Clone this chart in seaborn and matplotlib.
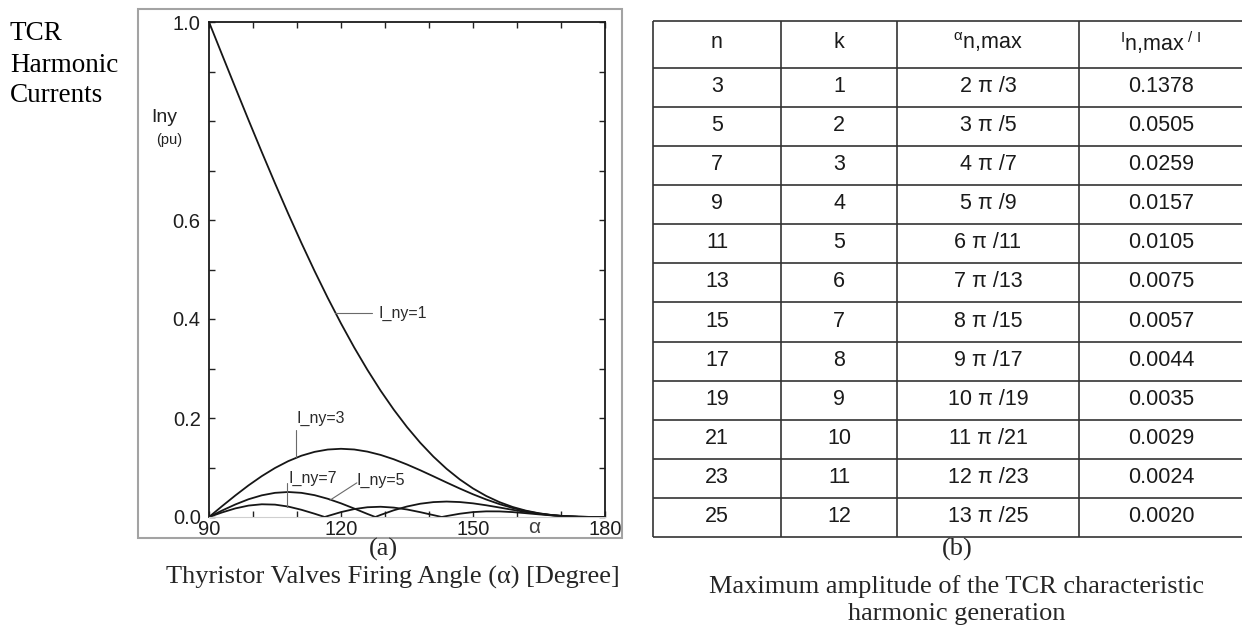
import numpy as np
import pandas as pd
import matplotlib
matplotlib.use("Agg")
import matplotlib.pyplot as plt
from matplotlib.patches import Rectangle
import seaborn as sns

# ---- TCR harmonic current magnitudes (pu) vs. firing angle (deg) ----
alpha_grid = [90, 93, 96, 99, 102, 105, 108, 111, 114, 117, 120, 123, 126, 129, 132,
              135, 138, 141, 144, 147, 150, 153, 156, 159, 162, 165, 168, 171, 174, 177, 180]
i_ny1 = [1.0, 0.9334, 0.8672, 0.8016, 0.7372, 0.6742, 0.6129, 0.5537, 0.4968, 0.4425,
         0.3910, 0.3425, 0.2973, 0.2553, 0.2168, 0.1817, 0.1501, 0.1220, 0.0973, 0.0759,
         0.0577, 0.0425, 0.0301, 0.0203, 0.0129, 0.0075, 0.0039, 0.0016, 0.0005, 0.0001, 0.0]
i_ny3 = [0.0, 0.0221, 0.0436, 0.0640, 0.0826, 0.0990, 0.1128, 0.1238, 0.1316, 0.1363,
         0.1378, 0.1364, 0.1321, 0.1254, 0.1166, 0.1061, 0.0945, 0.0822, 0.0697, 0.0575,
         0.0459, 0.0354, 0.0261, 0.0182, 0.0119, 0.0071, 0.0037, 0.0016, 0.0005, 0.0001, 0.0]

alpha_ny5 = [90, 93, 96, 99, 102, 105, 108, 111, 114, 117, 120, 123, 126, 127.8, 129, 132,
             135, 138, 141, 144, 147, 150, 153, 156, 159, 162, 165, 168, 171, 174, 177, 180]
i_ny5 = [0.0, 0.0132, 0.0254, 0.0359, 0.0438, 0.0488, 0.0505, 0.0488, 0.0441, 0.0368,
         0.0276, 0.0171, 0.0062, 0.0, 0.0042, 0.0136, 0.0212, 0.0268, 0.0301, 0.0312,
         0.0302, 0.0276, 0.0237, 0.0192, 0.0145, 0.0101, 0.0064, 0.0035, 0.0015, 0.0005,
         0.0001, 0.0]

alpha_ny7 = [90, 93, 96, 99, 102, 105, 108, 111, 114, 116.3, 117, 120, 123, 126, 129, 132,
             135, 138, 141, 142.9, 144, 147, 150, 153, 156, 159, 162, 165, 168, 171, 174,
             177, 180]
i_ny7 = [0.0, 0.0093, 0.0174, 0.0231, 0.0257, 0.0250, 0.0211, 0.0146, 0.0066, 0.0,
         0.0020, 0.0099, 0.0160, 0.0197, 0.0207, 0.0190, 0.0152, 0.0098, 0.0038, 0.0,
         0.0019, 0.0066, 0.0099, 0.0114, 0.0113, 0.0099, 0.0077, 0.0053, 0.0031, 0.0015,
         0.0005, 0.0, 0.0]

x_ticks = [90, 100, 110, 120, 130, 140, 150, 160, 170, 180]
x_tick_labels = ["90", "", "", "120", "", "", "150", "", "", "180"]
y_ticks = [0.0, 0.1, 0.2, 0.3, 0.4, 0.5, 0.6, 0.7, 0.8, 0.9, 1.0]
y_tick_labels = ["0.0", "", "0.2", "", "0.4", "", "0.6", "", "", "", "1.0"]

# ---- Table: maximum amplitude of characteristic harmonics ----
table_n = ["3", "5", "7", "9", "11", "13", "15", "17", "19", "21", "23", "25"]
table_k = ["1", "2", "3", "4", "5", "6", "7", "8", "9", "10", "11", "12"]
table_alpha = ["2 π /3", "3 π /5", "4 π /7", "5 π /9", "6 π /11", "7 π /13", "8 π /15",
               "9 π /17", "10 π /19", "11 π /21", "12 π /23", "13 π /25"]
table_imax = ["0.1378", "0.0505", "0.0259", "0.0157", "0.0105", "0.0075", "0.0057",
              "0.0044", "0.0035", "0.0029", "0.0024", "0.0020"]
table_header = ["n", "k", r"$^{\mathrm{\alpha}}$n,max", r"$^{\mathrm{I}}$n,max$^{\mathrm{\ /\ I}}$"]

sns.set_theme(style="white")
plt.rcParams["font.family"] = ["Liberation Sans", "DejaVu Sans"]
plt.rcParams["mathtext.fontset"] = "custom"
plt.rcParams["mathtext.rm"] = "Liberation Sans"
plt.rcParams["mathtext.it"] = "Liberation Sans:italic"
plt.rcParams["mathtext.bf"] = "Liberation Sans:bold"

W, H = 1242, 632
fig = plt.figure(figsize=(W / 100, H / 100), dpi=100)
fig.patch.set_facecolor("white")


def fx(px):
    return px / W


def fy(py):
    return 1 - py / H


# ---------------- left panel: harmonic curves ----------------
frames = [
    pd.DataFrame({"alpha": alpha_grid, "current": i_ny1, "order": "1"}),
    pd.DataFrame({"alpha": alpha_grid, "current": i_ny3, "order": "3"}),
    pd.DataFrame({"alpha": alpha_ny5, "current": i_ny5, "order": "5"}),
    pd.DataFrame({"alpha": alpha_ny7, "current": i_ny7, "order": "7"}),
]
df = pd.concat(frames, ignore_index=True)

ax = fig.add_axes([fx(209), fy(517), fx(605) - fx(209), fy(22) - fy(517)])
sns.lineplot(data=df, x="alpha", y="current", units="order", estimator=None,
             color="#161616", linewidth=1.3, ax=ax, legend=False)
ax.set_xlim(90, 180)
ax.set_ylim(0, 1.0)
ax.set_xlabel("")
ax.set_ylabel("")
ax.set_xticks(x_ticks)
ax.set_xticklabels(x_tick_labels)
ax.set_yticks(y_ticks)
ax.set_yticklabels(y_tick_labels)
ax.tick_params(axis="both", direction="in", length=4.5, width=1.0, color="#222222",
               top=True, right=True, bottom=True, left=True, labelsize=14.5,
               labelcolor="#1e1e1e")
ax.tick_params(axis="x", pad=2.5)
ax.tick_params(axis="y", pad=6)
for side in ["top", "left", "right"]:
    ax.spines[side].set_color("#1a1a1a")
    ax.spines[side].set_linewidth(1.3)
ax.spines["bottom"].set_color("#cfcfcf")
ax.spines["bottom"].set_linewidth(0.8)
ax.set_facecolor("white")

lead = dict(color="#6a6a6a", lw=0.8, clip_on=False)
lab = dict(fontsize=11.5, color="#2a2a2a", va="center", ha="left")
ax.plot([118.6, 127.0], [0.412, 0.412], **lead)
ax.text(128.5, 0.411, "I_ny=1", **lab)
ax.plot([109.8, 109.8], [0.176, 0.122], **lead)
ax.text(109.8, 0.200, "I_ny=3", **lab)
ax.plot([107.7, 107.7], [0.069, 0.020], **lead)
ax.text(108.0, 0.078, "I_ny=7", **lab)
ax.plot([123.6, 117.5], [0.069, 0.034], **lead)
ax.text(123.5, 0.074, "I_ny=5", **lab)
ax.text(164, -0.022, "α", fontsize=15, color="#444444", ha="center", va="center",
        clip_on=False)

fig.text(fx(164.5), fy(122), "Iny", fontsize=14, color="#222222", ha="center",
         va="baseline")
fig.text(fx(169), fy(144), "(pu)", fontsize=10.5, color="#222222", ha="center",
         va="baseline")

# light frame around the plot panel
fig.patches.append(Rectangle((fx(138), fy(538)), fx(622) - fx(138), fy(9) - fy(538),
                             transform=fig.transFigure, fill=False,
                             edgecolor="#a3a3a3", linewidth=1.5))

serif = ["Liberation Serif", "DejaVu Serif"]
for i, word in enumerate(["TCR", "Harmonic", "Currents"]):
    fig.text(fx(10), fy(34 + 31 * i), word, family=serif, fontsize=19.5,
             ha="left", va="center", color="black")
fig.text(fx(383), fy(549), "(a)", family=serif, fontsize=19, ha="center", va="center")
fig.text(fx(393), fy(577), "Thyristor Valves Firing Angle (α) [Degree]", family=serif,
         fontsize=19, ha="center", va="center")
fig.text(fx(957), fy(549), "(b)", family=serif, fontsize=19, ha="center", va="center")
fig.text(fx(957), fy(587), "Maximum amplitude of the TCR characteristic", family=serif,
         fontsize=19, ha="center", va="center")
fig.text(fx(957), fy(614), "harmonic generation", family=serif, fontsize=19,
         ha="center", va="center")

# ---------------- right panel: table ----------------
col_edges = [0, 128, 244, 426, 590]
header_h = 47
row_h = 39.08
n_rows = len(table_n)
tab_h = header_h + n_rows * row_h

tax = fig.add_axes([fx(653), fy(21 + tab_h), fx(653 + col_edges[-1]) - fx(653),
                    fy(21) - fy(21 + tab_h)])
tax.set_xlim(0, col_edges[-1])
tax.set_ylim(tab_h, 0)
tax.axis("off")

line_kw = dict(color="#333333", linewidth=1.2, clip_on=False)
row_lines = [0, header_h] + [header_h + (i + 1) * row_h for i in range(n_rows)]
tax.hlines(row_lines, 0, col_edges[-1], **line_kw)
tax.vlines(col_edges, 0, tab_h, **line_kw)

centers = [(col_edges[i] + col_edges[i + 1]) / 2 for i in range(4)]
txt = dict(fontsize=15.5, color="#1a1a1a", ha="center", va="center")
for c, h in zip(centers, table_header):
    tax.text(c, header_h / 2 - 2, h, **txt)
for r in range(n_rows):
    yc = header_h + (r + 0.5) * row_h - 1
    for c, v in zip(centers, [table_n[r], table_k[r], table_alpha[r], table_imax[r]]):
        tax.text(c, yc, v, **txt)

fig.savefig("out.png", dpi=100, facecolor="white")
